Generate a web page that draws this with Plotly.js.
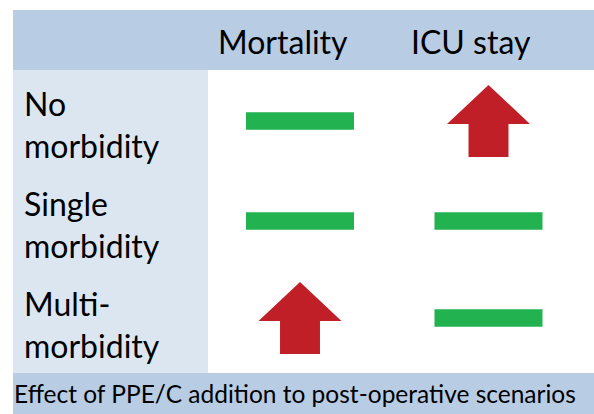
<!DOCTYPE html>
<html><head><meta charset="utf-8">
<script src="https://cdn.plot.ly/plotly-3.0.1.min.js"></script>
<style>html,body{margin:0;padding:0;background:#fff}</style>
</head><body><div id="chart" style="width:594px;height:414px"></div>
<script>
// ---- data ----
const columns = ["Mortality", "ICU stay"];
const rowLabels = ["No<br>morbidity", "Single<br>morbidity", "Multi-<br>morbidity"];
// effect of PPE/C per scenario: 0 = no change (bar), 1 = increase (up arrow)
const mortalityEffect = [0, 0, 1];
const icuEffect = [1, 0, 0];
const footerText = "Effect of PPE/C addition to post-operative scenarios";
const titleText = "Outcomes of the procedure, compared to standard care";

// ---- geometry in data units ----
const colX = [1, 2];
const rowY = [1, 2, 2.97];
const FONT = "Lato, 'Open Sans', sans-serif";
const GREEN = "#22B24F", RED = "#C01F28";
const HEADER = "#B8CCE4", SIDE = "#DCE6F1";

const barW = 0.573, barH = 0.175;
const arW = 0.44, shW = 0.212, arH = 0.72, headH = 0.39;

const bx = [], by = [], ax = [], ay = [];
function addBar(cx, cy) {
  bx.push(cx - barW/2, cx + barW/2, cx + barW/2, cx - barW/2, cx - barW/2, null);
  by.push(cy - barH/2, cy - barH/2, cy + barH/2, cy + barH/2, cy - barH/2, null);
}
function addArrow(cx, cy) {
  const top = cy - arH/2, base = top + headH, bot = cy + arH/2;
  ax.push(cx, cx + arW/2, cx + shW/2, cx + shW/2, cx - shW/2, cx - shW/2, cx - arW/2, cx, null);
  ay.push(top, base, base, bot, bot, base, base, top, null);
}
const effects = [mortalityEffect, icuEffect];
effects.forEach((col, ci) => col.forEach((v, ri) => {
  if (v === 1) addArrow(colX[ci], rowY[ri]); else addBar(colX[ci], rowY[ri]);
}));

const traces = [
  {x: bx, y: by, type: "scatter", mode: "lines", fill: "toself", fillcolor: GREEN,
   line: {width: 0, color: GREEN}, hoverinfo: "skip", showlegend: false},
  {x: ax, y: ay, type: "scatter", mode: "lines", fill: "toself", fillcolor: RED,
   line: {width: 0, color: RED}, hoverinfo: "skip", showlegend: false}
];

const xL = -0.5225, xR = 2.6, xSide = 0.512;
const yTop = -0.11, yHead = 0.49, yFoot = 3.52, yBot = 4.0;

const shapes = [
  {type: "rect", layer: "below", x0: xL, x1: xR, y0: yTop, y1: yHead, fillcolor: HEADER, line: {width: 0}},
  {type: "rect", layer: "below", x0: xL, x1: xSide, y0: yHead, y1: yFoot, fillcolor: SIDE, line: {width: 0}},
  {type: "rect", layer: "below", x0: xL, x1: xR, y0: yFoot, y1: yBot, fillcolor: HEADER, line: {width: 0}}
];

const annotations = [];
columns.forEach((c, i) => annotations.push({
  x: colX[i] - 0.092, y: 0.2, xref: "x", yref: "y", text: c, showarrow: false,
  xanchor: "center", yanchor: "middle", font: {family: FONT, size: 32, color: "#000"}
}));
rowLabels.forEach((r, i) => annotations.push({
  x: -0.475, y: [1, 2, 3][i] + 0.03, xref: "x", yref: "y", text: r, showarrow: false,
  xanchor: "left", yanchor: "middle", align: "left",
  font: {family: FONT, size: 32, color: "#000"}
}));
annotations.push({
  x: -0.53, y: 3.72, xref: "x", yref: "y", text: footerText, showarrow: false,
  xanchor: "left", yanchor: "middle", font: {family: FONT, size: 24.5, color: "#000"}
});
annotations.push({
  x: 0.81, y: -0.185, xref: "x", yref: "y", text: titleText, showarrow: false,
  xanchor: "center", yanchor: "bottom", font: {family: FONT, size: 30, color: "#000"}
});

const layout = {
  width: 594, height: 414,
  margin: {l: 0, r: 0, t: 0, b: 0, pad: 0},
  paper_bgcolor: "#fff", plot_bgcolor: "#fff",
  xaxis: {range: [-0.5915, 2.5597], visible: false, fixedrange: true},
  yaxis: {range: [3.93, -0.21], visible: false, fixedrange: true},
  shapes: shapes, annotations: annotations, showlegend: false
};
Plotly.newPlot("chart", traces, layout, {staticPlot: true, displayModeBar: false});
</script></body></html>
